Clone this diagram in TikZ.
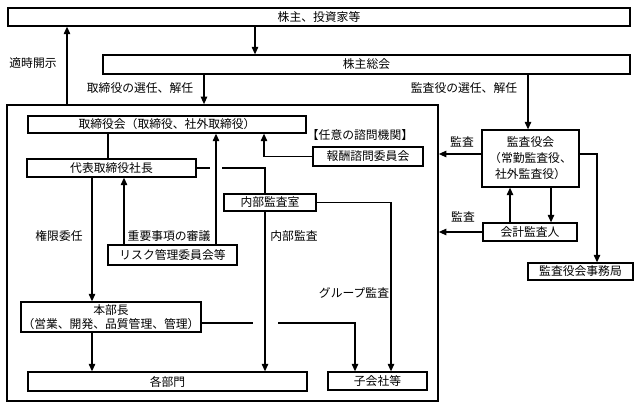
\documentclass[tikz,border=0pt]{standalone}
\usepackage{fontspec}
\setmainfont{Noto Sans CJK JP}
\usetikzlibrary{arrows.meta}
\begin{document}
\begin{tikzpicture}[x=1pt,y=-1pt,
  font=\fontsize{11.8}{13}\selectfont,
  box/.style={draw, line width=1.3pt, inner sep=0pt, align=center},
  conn/.style={line width=1.1pt},
  arr/.style={line width=1.1pt, -{Triangle[length=7.5pt,width=6.5pt]}},
  lbl/.style={inner sep=0pt}]
\useasboundingbox (0,0) rectangle (639,409);
% nodes
\node[box, minimum width=622pt, minimum height=18pt] (sh) at (319,17) {株主、投資家等};
\node[box, minimum width=527pt, minimum height=19pt] (gm) at (366.5,64.5) {株主総会};
\node[draw, line width=1.7pt, minimum width=431pt, minimum height=296pt, inner sep=0pt] (big) at (222.5,253) {};
\node[box, minimum width=278pt, minimum height=17pt] (bod) at (167,124.5) {取締役会（取締役、社外取締役）};
\node[box, minimum width=169pt, minimum height=18pt] (ceo) at (111.5,168) {代表取締役社長};
\node[box, minimum width=110pt, minimum height=19pt] (comp) at (368,156.5) {報酬諮問委員会};
\node[box, minimum width=92pt, minimum height=17pt] (ia) at (270,202.5) {内部監査室};
\node[box, minimum width=129pt, minimum height=20pt] (risk) at (172.5,255) {リスク管理委員会等};
\node[box, minimum width=180pt, minimum height=30pt, font=\fontsize{11.8}{14}\selectfont] (hq) at (111,317) {本部長\\（営業、開発、品質管理、管理）};
\node[box, minimum width=279pt, minimum height=19pt] (dept) at (167.5,381.5) {各部門};
\node[box, minimum width=99pt, minimum height=18pt] (sub) at (377.5,381) {子会社等};
\node[box, minimum width=97pt, minimum height=57pt, font=\fontsize{11.8}{16}\selectfont] (kab) at (530.5,158.5) {監査役会\\（常勤監査役、\\社外監査役）};
\node[box, minimum width=94pt, minimum height=18pt] (acc) at (530,232) {会計監査人};
\node[box, minimum width=105pt, minimum height=17pt] (off) at (580.5,271.5) {監査役会事務局};
% labels
\node[lbl] (l1) at (33,63) {適時開示};
\node[lbl] (l2) at (140,88) {取締役の選任、解任};
\node[lbl] (l3) at (464,88) {監査役の選任、解任};
\node[lbl] (l4) at (360,135) {【任意の諮問機関】};
\node[lbl] (l5) at (59,236) {権限委任};
\node[lbl] (l6) at (169,236) {重要事項の審議};
\node[lbl] (l7) at (294,236) {内部監査};
\node[lbl] (l8) at (354,293) {グループ監査};
\node[lbl] (l9) at (462,142) {監査};
\node[lbl] (l10) at (463,217) {監査};
% helper coordinates for gaps
\coordinate (g1a) at (210,168);
\coordinate (g1b) at (222,168);
\coordinate (g2a) at (253,323);
\coordinate (g2b) at (278,323);
% connectors
\draw[arr] (255,0 |- sh.south) -- (255,0 |- gm.north);
\draw[arr] (67,0 |- big.north) -- (67,0 |- sh.south);
\draw[arr] (204,0 |- gm.south) -- (204,0 |- big.north);
\draw[arr] (528,0 |- gm.south) -- (528,0 |- kab.north);
\draw[conn] (108,0 |- bod.south) -- (108,0 |- ceo.north);
\draw[conn] (ceo.east) -- (g1a);
\draw[conn] (g1b) -| (265,0 |- ia.north);
\draw[arr] (216,0 |- risk.north) -- (216,0 |- bod.south);
\draw[arr] (comp.west) -| (264,0 |- bod.south);
\draw[arr] (124,0 |- risk.north) -- (124,0 |- ceo.south);
\draw[arr] (92,0 |- ceo.south) -- (92,0 |- hq.north);
\draw[arr] (265,0 |- ia.south) -- (265,0 |- dept.north);
\draw[arr] (ia.east) -| (391,0 |- sub.north);
\draw[conn] (hq.east |- g2a) -- (g2a);
\draw[arr] (g2b) -| (355,0 |- sub.north);
\draw[arr] (92,0 |- hq.south) -- (92,0 |- dept.north);
\draw[arr] (kab.west |- 0,154) -- (big.east |- 0,154);
\draw[arr] (kab.east |- 0,154) -| (597,0 |- off.north);
\draw[arr] (510,0 |- acc.north) -- (510,0 |- kab.south);
\draw[arr] (551,0 |- kab.south) -- (551,0 |- acc.north);
\draw[arr] (acc.west) -- (big.east |- acc.west);
\end{tikzpicture}
\end{document}
